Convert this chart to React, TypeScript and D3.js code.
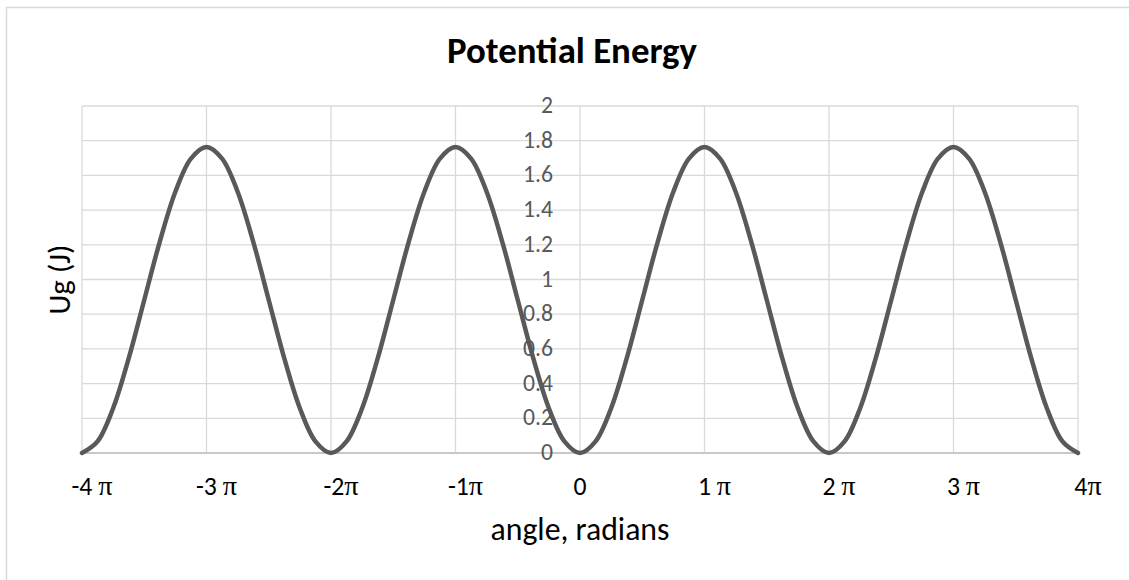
import * as d3 from "d3";
import { useEffect, useRef } from "react";

// angle in units of pi (step pi/8)
const angles = [
  -4, -3.875, -3.75, -3.625, -3.5, -3.375, -3.25, -3.125,
  -3, -2.875, -2.75, -2.625, -2.5, -2.375, -2.25, -2.125,
  -2, -1.875, -1.75, -1.625, -1.5, -1.375, -1.25, -1.125,
  -1, -0.875, -0.75, -0.625, -0.5, -0.375, -0.25, -0.125,
  0, 0.125, 0.25, 0.375, 0.5, 0.625, 0.75, 0.875,
  1, 1.125, 1.25, 1.375, 1.5, 1.625, 1.75, 1.875,
  2, 2.125, 2.25, 2.375, 2.5, 2.625, 2.75, 2.875,
  3, 3.125, 3.25, 3.375, 3.5, 3.625, 3.75, 3.875,
  4,
];

// Ug (J)
const energy = [
  0, 0.067, 0.258, 0.545, 0.882, 1.219, 1.506, 1.697,
  1.764, 1.697, 1.506, 1.219, 0.882, 0.545, 0.258, 0.067,
  0, 0.067, 0.258, 0.545, 0.882, 1.219, 1.506, 1.697,
  1.764, 1.697, 1.506, 1.219, 0.882, 0.545, 0.258, 0.067,
  0, 0.067, 0.258, 0.545, 0.882, 1.219, 1.506, 1.697,
  1.764, 1.697, 1.506, 1.219, 0.882, 0.545, 0.258, 0.067,
  0, 0.067, 0.258, 0.545, 0.882, 1.219, 1.506, 1.697,
  1.764, 1.697, 1.506, 1.219, 0.882, 0.545, 0.258, 0.067,
  0,
];

const xTicks = [-4, -3, -2, -1, 0, 1, 2, 3, 4];
const xTickNums = ["-4 ", "-3 ", "-2", "-1", "0", "1 ", "2 ", "3 ", "4"];
const yTicks = [0, 0.2, 0.4, 0.6, 0.8, 1, 1.2, 1.4, 1.6, 1.8, 2];

const WIDTH = 1129;
const HEIGHT = 580;
const FONT = "Calibri, Carlito, Lato, sans-serif";
const PI_FONT = "'Liberation Serif', 'DejaVu Serif', serif";

// scale a text's font size so that it is about `target` px wide
const fitSize = (node: SVGTextElement | null, base: number, target: number) => {
  if (!node) return base;
  const w = node.getComputedTextLength();
  return w > 0 ? (base * target) / w : base;
};

const App = () => {
  const svgRef = useRef<SVGSVGElement>(null);

  useEffect(() => {
    document.body.style.margin = "0";
    document.body.style.overflow = "hidden";

    const svg = d3.select(svgRef.current);
    svg.selectAll("*").remove();

    const plot = { left: 82, right: 1078, top: 106, bottom: 453 };
    const x = d3.scaleLinear().domain([-4, 4]).range([plot.left, plot.right]);
    const y = d3.scaleLinear().domain([0, 2]).range([plot.bottom, plot.top]);

    // chart frame (only left and top edges are inside the picture)
    svg
      .append("path")
      .attr("d", `M6.5,${HEIGHT}V7.5H${WIDTH}`)
      .attr("fill", "none")
      .attr("stroke", "#d9d9d9")
      .attr("stroke-width", 1.5);

    // gridlines
    const grid = svg.append("g").attr("stroke", "#d9d9d9").attr("stroke-width", 1.3);
    yTicks.forEach((t) => {
      grid
        .append("line")
        .attr("x1", plot.left)
        .attr("x2", plot.right)
        .attr("y1", y(t))
        .attr("y2", y(t));
    });
    xTicks.forEach((t) => {
      grid
        .append("line")
        .attr("x1", x(t))
        .attr("x2", x(t))
        .attr("y1", plot.top)
        .attr("y2", plot.bottom);
    });

    // horizontal axis line
    svg
      .append("line")
      .attr("x1", plot.left)
      .attr("x2", plot.right)
      .attr("y1", y(0))
      .attr("y2", y(0))
      .attr("stroke", "#bfbfbf")
      .attr("stroke-width", 1.5);

    // y tick labels (axis crosses at 0)
    const yl = svg
      .append("g")
      .attr("font-family", FONT)
      .attr("font-size", 20)
      .attr("fill", "#595959");
    yl.selectAll("text")
      .data(yTicks)
      .join("text")
      .attr("x", x(0) - 27)
      .attr("y", (d) => y(d) + 7)
      .attr("text-anchor", "end")
      .text((d) => String(d));
    const probeY = yl.selectAll<SVGTextElement, number>("text").filter((d) => d === 1.8).node();
    yl.attr("font-size", fitSize(probeY, 20, 30));

    // x tick labels
    const xl = svg.append("g").attr("font-family", FONT).attr("font-size", 20).attr("fill", "#000");
    const xNodes: SVGTextElement[] = [];
    xTicks.forEach((t, i) => {
      const txt = xl
        .append("text")
        .attr("x", x(t) + (t === 0 ? 0 : 10))
        .attr("y", 495)
        .attr("text-anchor", "middle");
      txt.append("tspan").text(xTickNums[i]);
      if (t !== 0) {
        txt.append("tspan").attr("font-family", PI_FONT).attr("font-size", "1.1em").text("π");
      }
      xNodes.push(txt.node() as SVGTextElement);
    });
    xl.attr("font-size", fitSize(xNodes[0], 20, 41));

    // curve
    const line = d3
      .line<number>()
      .x((_, i) => x(angles[i]))
      .y((d) => y(d))
      .curve(d3.curveCatmullRom);
    svg
      .append("path")
      .datum(energy)
      .attr("fill", "none")
      .attr("stroke", "#595959")
      .attr("stroke-width", 4.5)
      .attr("stroke-linecap", "round")
      .attr("d", line);

    // titles
    const title = svg
      .append("text")
      .attr("x", 572)
      .attr("y", 63)
      .attr("text-anchor", "middle")
      .attr("font-family", FONT)
      .attr("font-weight", "bold")
      .attr("font-size", 30)
      .attr("fill", "#000")
      .text("Potential Energy");
    title.attr("font-size", fitSize(title.node(), 30, 250));

    const xTitle = svg
      .append("text")
      .attr("x", 580)
      .attr("y", 540)
      .attr("text-anchor", "middle")
      .attr("font-family", FONT)
      .attr("font-size", 22)
      .attr("fill", "#000")
      .text("angle, radians");
    xTitle.attr("font-size", fitSize(xTitle.node(), 22, 179));

    const yTitle = svg
      .append("text")
      .attr("transform", `translate(70,${(plot.top + plot.bottom) / 2}) rotate(-90)`)
      .attr("text-anchor", "middle")
      .attr("font-family", FONT)
      .attr("font-size", 22)
      .attr("fill", "#000")
      .text("Ug (J)");
    yTitle.attr("font-size", fitSize(yTitle.node(), 22, 70));
  }, []);

  return (
    <svg
      ref={svgRef}
      width={WIDTH}
      height={HEIGHT}
      style={{ display: "block", background: "white" }}
    ></svg>
  );
};

export default App;
